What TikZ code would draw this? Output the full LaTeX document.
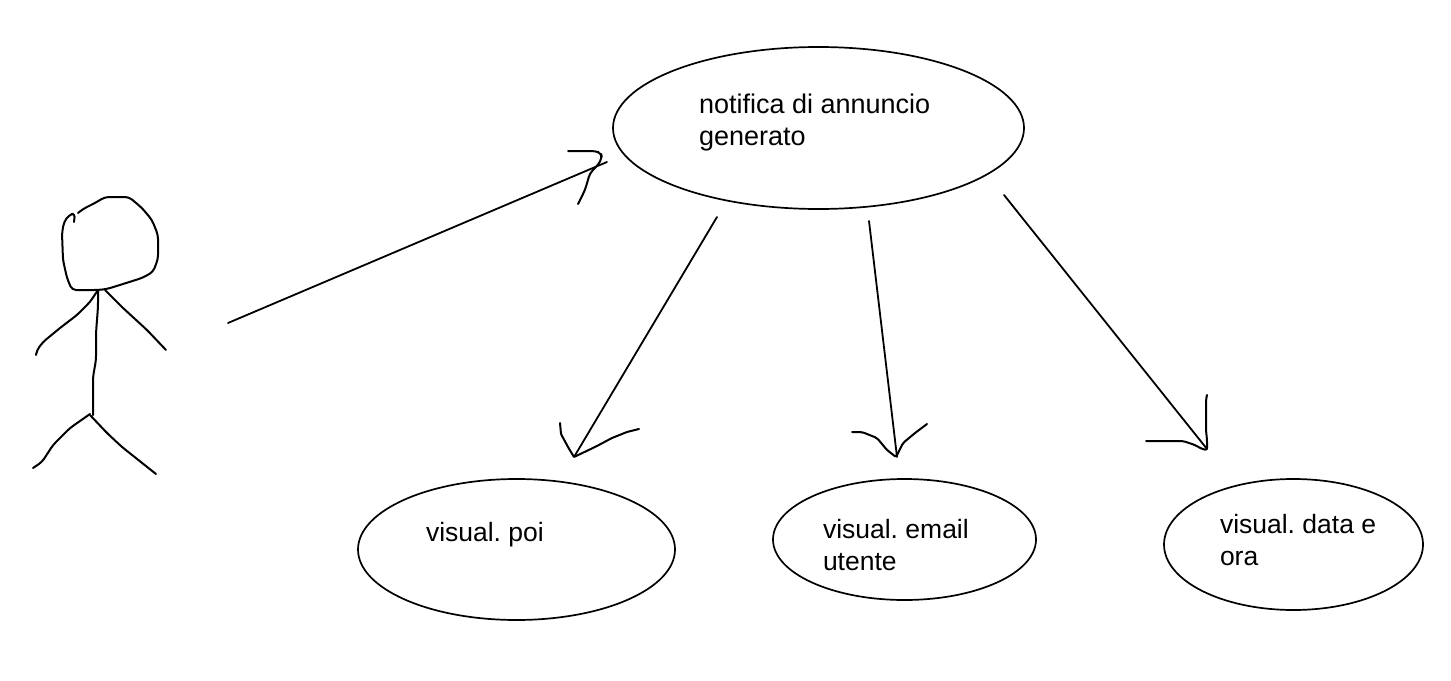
\documentclass[tikz,border=0pt]{standalone}
\usepackage{fontspec}
\setmainfont{Liberation Sans}
\usetikzlibrary{shapes.geometric}
\frenchspacing
\tikzset{
  usecase/.style={draw=black,line width=1.7pt,ellipse,inner sep=0pt,outer sep=0pt},
  label text/.style={inner sep=0pt,outer sep=0pt,anchor=north west,align=left,font=\fontsize{26.5}{32}\selectfont,text=black},
  pen/.style={draw=black,line width=2pt,line join=round,line cap=round,rounded corners=4pt},
  shaft/.style={draw=black,line width=1.8pt,line cap=round},
}
\begin{document}
\begin{tikzpicture}[x=1pt,y=-1pt]
\useasboundingbox (0,0) rectangle (1451,680);
\fill[white] (0,0) rectangle (1451,680);
% use cases
\node[usecase,minimum width=411pt,minimum height=162pt] (notifica) at (818.5,128) {};
\node[usecase,minimum width=317pt,minimum height=141pt] (poi) at (516.5,549.5) {};
\node[usecase,minimum width=263pt,minimum height=121pt] (email) at (904.5,539.5) {};
\node[usecase,minimum width=259pt,minimum height=131pt] (data) at (1293.5,544.5) {};
% labels
\node[label text,font=\fontsize{27}{32}\selectfont] (tnotifica) at (699,94) {notifica di annuncio\\generato};
\node[label text] (tpoi) at (426,522) {visual. poi};
\node[label text] (temail) at (823,519) {visual. email\\utente};
\node[label text] (tdata) at (1220,514) {visual. data e\\ora};
% connector ends
\coordinate (a0) at (228,323);
\coordinate (a1) at (607,162);
\coordinate (b0) at (717,217);
\coordinate (b1) at (574,457);
\coordinate (c0) at (869,221);
\coordinate (c1) at (897,457);
\coordinate (d0) at (1004,195);
\coordinate (d1) at (1207,449);
\draw[shaft] (a0) -- (a1);
\draw[shaft] (b0) -- (b1);
\draw[shaft] (c0) -- (c1);
\draw[shaft] (d0) -- (d1);
% hand-drawn arrowheads
\draw[pen] (568,151) -- (595,151) -- (601,153) -- (602,158) -- (598,165) -- (590,173) -- (585,190) -- (578,204);
\draw[pen,rounded corners=1pt] (560,423) -- (561,434) -- (568,447) -- (b1) -- (595,447) -- (612,438) -- (627,432) -- (639,429);
\draw[pen,rounded corners=2pt] (852,432) -- (862,432) -- (877,438) -- (887,450) -- (896,457) -- (903,443) -- (915,433) -- (927,424);
\draw[pen,rounded corners=2pt] (1146,441) -- (1183,441) -- (1195,445) -- (1202,449) -- (1207,450) -- (1207,440) -- (1206,430) -- (1206,400) -- (1207,395);
% stick figure
\draw[pen] (74,222) -- (75,213) -- (69,215) -- (64,222) -- (62,233) -- (63,260) -- (67,278) -- (72,290) -- (98,290) -- (107,289) -- (123,284) -- (142,278) -- (153,272) -- (158,259) -- (158,235) -- (152,220) -- (142,208) -- (129,197) -- (105,197) -- (95,203) -- (83,209) -- (78,213);
\draw[pen] (98,290) -- (90,302) -- (77,315) -- (60,328) -- (43,342) -- (37,350) -- (36,355);
\draw[pen] (105,290) -- (123,308) -- (147,330) -- (166,350);
\draw[pen] (98,290) -- (98,307) -- (96,333) -- (96,360) -- (93,377) -- (93,415);
\draw[pen] (90,414) -- (70,428) -- (53,445) -- (42,462) -- (33,468);
\draw[pen] (90,415) -- (107,433) -- (122,447) -- (156,474);
\end{tikzpicture}
\end{document}
